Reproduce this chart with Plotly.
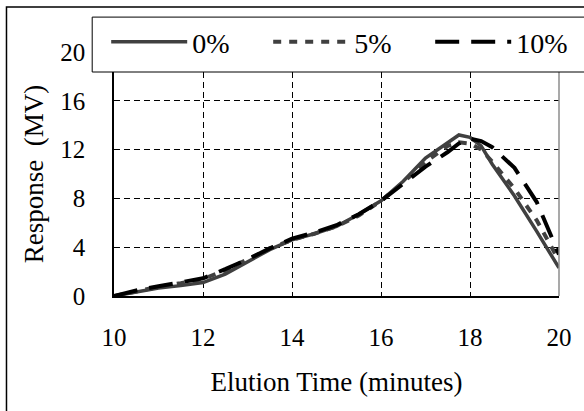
import plotly.graph_objects as go

# ---- data ----
elution_time = [10, 10.5, 11, 11.5, 12, 12.5, 13, 13.5, 14, 14.5, 15, 15.5, 16,
                16.5, 17, 17.5, 17.75, 18, 18.25, 18.5, 19, 19.5, 20]
resp_0 = [0, 0.35, 0.65, 0.85, 1.1, 1.8, 2.8, 3.8, 4.6, 5.1, 5.7, 6.7, 7.8,
          9.4, 11.3, 12.6, 13.2, 13.0, 12.3, 10.8, 8.2, 5.3, 2.3]
resp_5 = [0, 0.4, 0.75, 1.05, 1.4, 2.1, 3.0, 3.9, 4.6, 5.1, 5.7, 6.6, 7.8,
          9.3, 11.0, 12.3, 12.6, 12.5, 12.0, 11.0, 8.8, 6.2, 2.9]
resp_10 = [0, 0.45, 0.8, 1.1, 1.45, 2.2, 3.0, 3.9, 4.7, 5.2, 5.8, 6.7, 7.8,
           9.2, 10.6, 11.8, 12.5, 12.9, 12.7, 12.2, 10.5, 7.7, 3.4]
series_names = ["0%", "5%", "10%"]
x_ticks = [10, 12, 14, 16, 18, 20]
y_ticks = [0, 4, 8, 12, 16, 20]

FONT = "Times New Roman, Liberation Serif, serif"

fig = go.Figure()
fig.add_trace(go.Scatter(x=elution_time, y=resp_0, name=series_names[0], mode="lines",
                         line=dict(color="#404040", width=3.5)))
fig.add_trace(go.Scatter(x=elution_time, y=resp_5, name=series_names[1], mode="lines",
                         line=dict(color="#404040", width=4, dash="8px,8px")))
fig.add_trace(go.Scatter(x=elution_time, y=resp_10, name=series_names[2], mode="lines",
                         line=dict(color="black", width=4, dash="24px,12px")))

fig.update_layout(
    width=584, height=411,
    margin=dict(l=114, r=23, t=52, b=115),
    paper_bgcolor="white", plot_bgcolor="white",
    font=dict(family=FONT, color="black", size=25),
    showlegend=True,
    legend=dict(
        orientation="h", x=-0.049, y=1.143, xanchor="left", yanchor="top",
        font=dict(family=FONT, size=28, color="black"),
        borderwidth=0, bgcolor="rgba(0,0,0,0)",
        entrywidth=57, entrywidthmode="pixels", itemwidth=76, indentation=14,
    ),
    shapes=[
        # outer chart frame
        dict(type="rect", xref="paper", yref="paper", x0=-0.2416, x1=1.08, y0=-0.55, y1=1.184,
             line=dict(color="black", width=1.5), fillcolor="rgba(0,0,0,0)", layer="below"),
        # right plot border (gray)
        dict(type="line", xref="paper", yref="paper", x0=1, x1=1, y0=0, y1=1,
             line=dict(color="#8c8c8c", width=1.5)),
        # legend frame (extends past the right edge, as in the reference)
        dict(type="rect", xref="paper", yref="paper", x0=-0.049, x1=1.1, y0=0.918, y1=1.143,
             line=dict(color="black", width=1), fillcolor="white", layer="above"),
    ],
)

fig.update_xaxes(
    range=[10, 20], tickvals=x_ticks, ticks="", showline=True, linecolor="black", linewidth=1.5,
    showgrid=True, gridcolor="black", gridwidth=1, griddash="6px,4px",
    zeroline=False, tickfont=dict(family=FONT, size=25), ticklabelstandoff=18,
    title=dict(text="Elution Time (minutes)", font=dict(family=FONT, size=27), standoff=22),
)
fig.update_yaxes(
    range=[0, 20], tickvals=y_ticks, ticks="", showline=True, linecolor="black", linewidth=1.5,
    showgrid=True, gridcolor="black", gridwidth=1, griddash="6px,4px",
    zeroline=False, tickfont=dict(family=FONT, size=25), ticklabelstandoff=22,
    title=dict(text="Response\u00a0 (MV)", font=dict(family=FONT, size=27), standoff=9),
)

fig.write_html("out.html")
